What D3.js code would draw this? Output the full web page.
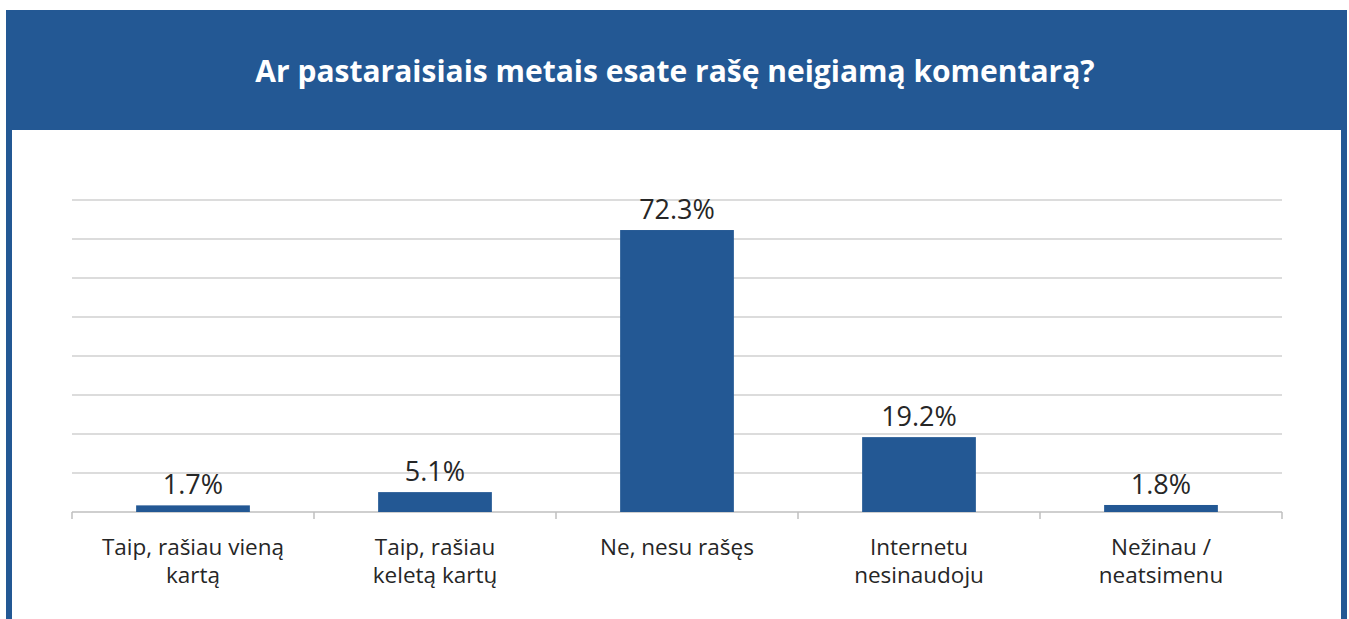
<!DOCTYPE html>
<html><head><meta charset="utf-8">
<script src="https://cdn.jsdelivr.net/npm/d3@7"></script>
<style>
html,body{margin:0;padding:0;background:#fff;}
svg{display:block;}
</style></head>
<body>
<svg id="chart" width="1349" height="619"></svg>
<script>
const title = "Ar pastaraisiais metais esate rašę neigiamą komentarą?";
const categories = [
  ["Taip, rašiau vieną", "kartą"],
  ["Taip, rašiau", "keletą kartų"],
  ["Ne, nesu rašęs"],
  ["Internetu", "nesinaudoju"],
  ["Nežinau /", "neatsimenu"]
];
const values = [1.7, 5.1, 72.3, 19.2, 1.8];
const valueLabels = ["1.7%", "5.1%", "72.3%", "19.2%", "1.8%"];
const yTicks = [0, 10, 20, 30, 40, 50, 60, 70, 80];

const blue = "#235894";
const svg = d3.select("#chart");
const font = "'Open Sans', sans-serif";

// frame
svg.append("rect").attr("x", 6).attr("y", 10).attr("width", 1341).attr("height", 120).attr("fill", blue);
svg.append("rect").attr("x", 6).attr("y", 10).attr("width", 6).attr("height", 609).attr("fill", blue);
svg.append("rect").attr("x", 1341).attr("y", 10).attr("width", 6).attr("height", 609).attr("fill", blue);

svg.append("text").attr("x", 675).attr("y", 82).attr("text-anchor", "middle")
  .attr("fill", "#fff").attr("font-family", font).attr("font-weight", "bold")
  .attr("font-size", 30).text(title);

const x = d3.scaleBand().domain(d3.range(categories.length)).range([72, 1282]).paddingInner(0).paddingOuter(0);
const y = d3.scaleLinear().domain([0, 80]).range([512, 200]);

const g = svg.append("g");
g.selectAll("line.grid").data(yTicks.slice(1)).join("line")
  .attr("x1", 72).attr("x2", 1282).attr("y1", d => y(d)).attr("y2", d => y(d))
  .attr("stroke", "#d0d0d0").attr("stroke-width", 1.5);

const xAxis = d3.axisBottom(x).tickSize(0).tickFormat("");
const ax = g.append("g").attr("transform", "translate(0,512)").call(xAxis);
ax.select(".domain").remove();
g.append("line").attr("x1", 72).attr("x2", 1282).attr("y1", y(0)).attr("y2", y(0)).attr("stroke", "#bfbfbf").attr("stroke-width", 1.5);
const edges = d3.range(categories.length + 1).map(i => i === categories.length ? x.range()[1] : x(i));
g.selectAll("line.tick").data(edges).join("line")
  .attr("x1", d => d).attr("x2", d => d).attr("y1", 512).attr("y2", 519)
  .attr("stroke", "#bfbfbf").attr("stroke-width", 1.5);

const bw = x.bandwidth() * 0.47;
g.selectAll("rect.bar").data(values).join("rect")
  .attr("x", (d, i) => x(i) + x.bandwidth() / 2 - bw / 2)
  .attr("width", bw)
  .attr("y", d => y(d)).attr("height", d => y(0) - y(d))
  .attr("fill", blue);

g.selectAll("text.val").data(values).join("text")
  .attr("x", (d, i) => x(i) + x.bandwidth() / 2)
  .attr("y", d => y(d) - 11)
  .attr("text-anchor", "middle").attr("fill", "#262626")
  .attr("font-family", font).attr("font-size", 27)
  .text((d, i) => valueLabels[i]);

categories.forEach((lines, i) => {
  const t = g.append("text").attr("text-anchor", "middle").attr("fill", "#262626")
    .attr("font-family", font).attr("font-size", 22.5);
  lines.forEach((ln, j) => {
    t.append("tspan").attr("x", x(i) + x.bandwidth() / 2).attr("y", 555 + j * 28).text(ln);
  });
});
</script>
</body></html>
